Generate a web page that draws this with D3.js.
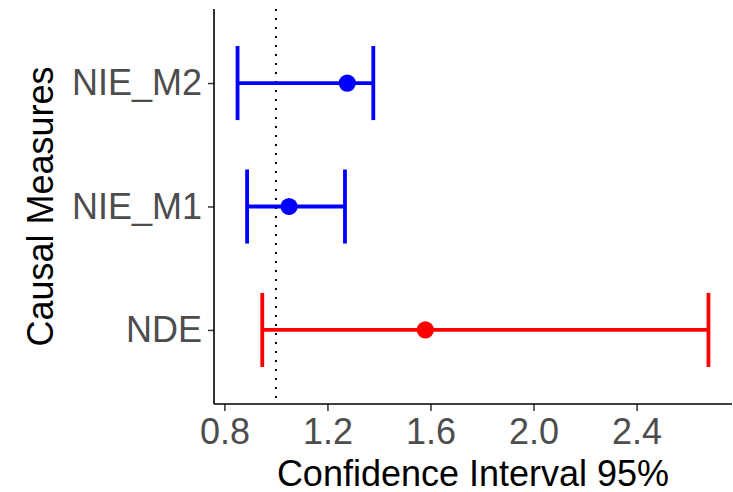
<!DOCTYPE html>
<html>
<head>
<meta charset="utf-8">
<script src="https://cdn.jsdelivr.net/npm/d3@7"></script>
<style>
  body { margin: 0; background: #fff; }
  text { font-family: "Liberation Sans", Arial, sans-serif; }
</style>
</head>
<body>
<div id="chart"></div>
<script>
// values
const measures = ["NDE", "NIE_M1", "NIE_M2"];
const lower = [0.947, 0.888, 0.851];
const estimate = [1.580, 1.051, 1.277];
const upper = [2.679, 1.268, 1.378];
const colours = ["#ff0000", "#0000ff", "#0000ff"];
const xTicks = [0.8, 1.2, 1.6, 2.0, 2.4];
const refLine = 1;

const width = 733, height = 492;
const panel = { left: 214, right: 732, top: 9, bottom: 404 };
const fontSize = 36;

const data = measures.map((m, i) => ({ m, lo: lower[i], est: estimate[i], hi: upper[i], col: colours[i] }));

const svg = d3.select("#chart").append("svg")
  .attr("width", width)
  .attr("height", height);

// ggplot style 5% expansion
const lo = d3.min(lower), hi = d3.max(upper);
const pad = (hi - lo) * 0.05;
const x = d3.scaleLinear()
  .domain([lo - pad, hi + pad])
  .range([panel.left, panel.right]);

const y = d3.scalePoint()
  .domain(measures.slice().reverse())
  .range([panel.top, panel.bottom])
  .padding(0.6);

const capHalf = y.step() * 0.3;

// dotted reference line
svg.append("line")
  .attr("x1", x(refLine)).attr("x2", x(refLine))
  .attr("y1", panel.top).attr("y2", panel.bottom)
  .attr("stroke", "#000")
  .attr("stroke-width", 2)
  .attr("stroke-dasharray", "2,7");

const bars = svg.append("g").selectAll("g")
  .data(data)
  .enter().append("g")
  .attr("stroke", d => d.col)
  .attr("stroke-width", 3.8);

bars.append("line")
  .attr("x1", d => x(d.lo)).attr("x2", d => x(d.hi))
  .attr("y1", d => y(d.m)).attr("y2", d => y(d.m));
bars.append("line")
  .attr("x1", d => x(d.lo)).attr("x2", d => x(d.lo))
  .attr("y1", d => y(d.m) - capHalf).attr("y2", d => y(d.m) + capHalf);
bars.append("line")
  .attr("x1", d => x(d.hi)).attr("x2", d => x(d.hi))
  .attr("y1", d => y(d.m) - capHalf).attr("y2", d => y(d.m) + capHalf);

bars.append("circle")
  .attr("cx", d => x(d.est))
  .attr("cy", d => y(d.m))
  .attr("r", 8.6)
  .attr("stroke", "none")
  .attr("fill", d => d.col);

// axes
const xAxis = svg.append("g")
  .attr("transform", "translate(0," + panel.bottom + ")")
  .call(d3.axisBottom(x).tickValues(xTicks).tickFormat(d3.format(".1f")).tickSize(7).tickPadding(7));

const yAxis = svg.append("g")
  .attr("transform", "translate(" + panel.left + ",0)")
  .call(d3.axisLeft(y).tickSize(6).tickPadding(6));

[xAxis, yAxis].forEach(a => {
  a.select(".domain").remove();
  a.selectAll(".tick line").attr("stroke", "#333").attr("stroke-width", 1.5);
  a.selectAll(".tick text")
    .attr("fill", "#4d4d4d")
    .attr("font-size", fontSize)
    .style("font-family", "'Liberation Sans', Arial, sans-serif");
});

svg.append("line")
  .attr("x1", panel.left).attr("x2", panel.right)
  .attr("y1", panel.bottom).attr("y2", panel.bottom)
  .attr("stroke", "#000").attr("stroke-width", 1.6);
svg.append("line")
  .attr("x1", panel.left).attr("x2", panel.left)
  .attr("y1", panel.top).attr("y2", panel.bottom)
  .attr("stroke", "#000").attr("stroke-width", 1.6);

// titles
svg.append("text")
  .attr("x", (panel.left + panel.right) / 2)
  .attr("y", 486)
  .attr("text-anchor", "middle")
  .attr("font-size", fontSize)
  .attr("fill", "#000")
  .text("Confidence Interval 95%");

svg.append("text")
  .attr("transform", "translate(53," + ((panel.top + panel.bottom) / 2) + ") rotate(-90)")
  .attr("text-anchor", "middle")
  .attr("font-size", fontSize)
  .attr("fill", "#000")
  .text("Causal Measures");
</script>
</body>
</html>
